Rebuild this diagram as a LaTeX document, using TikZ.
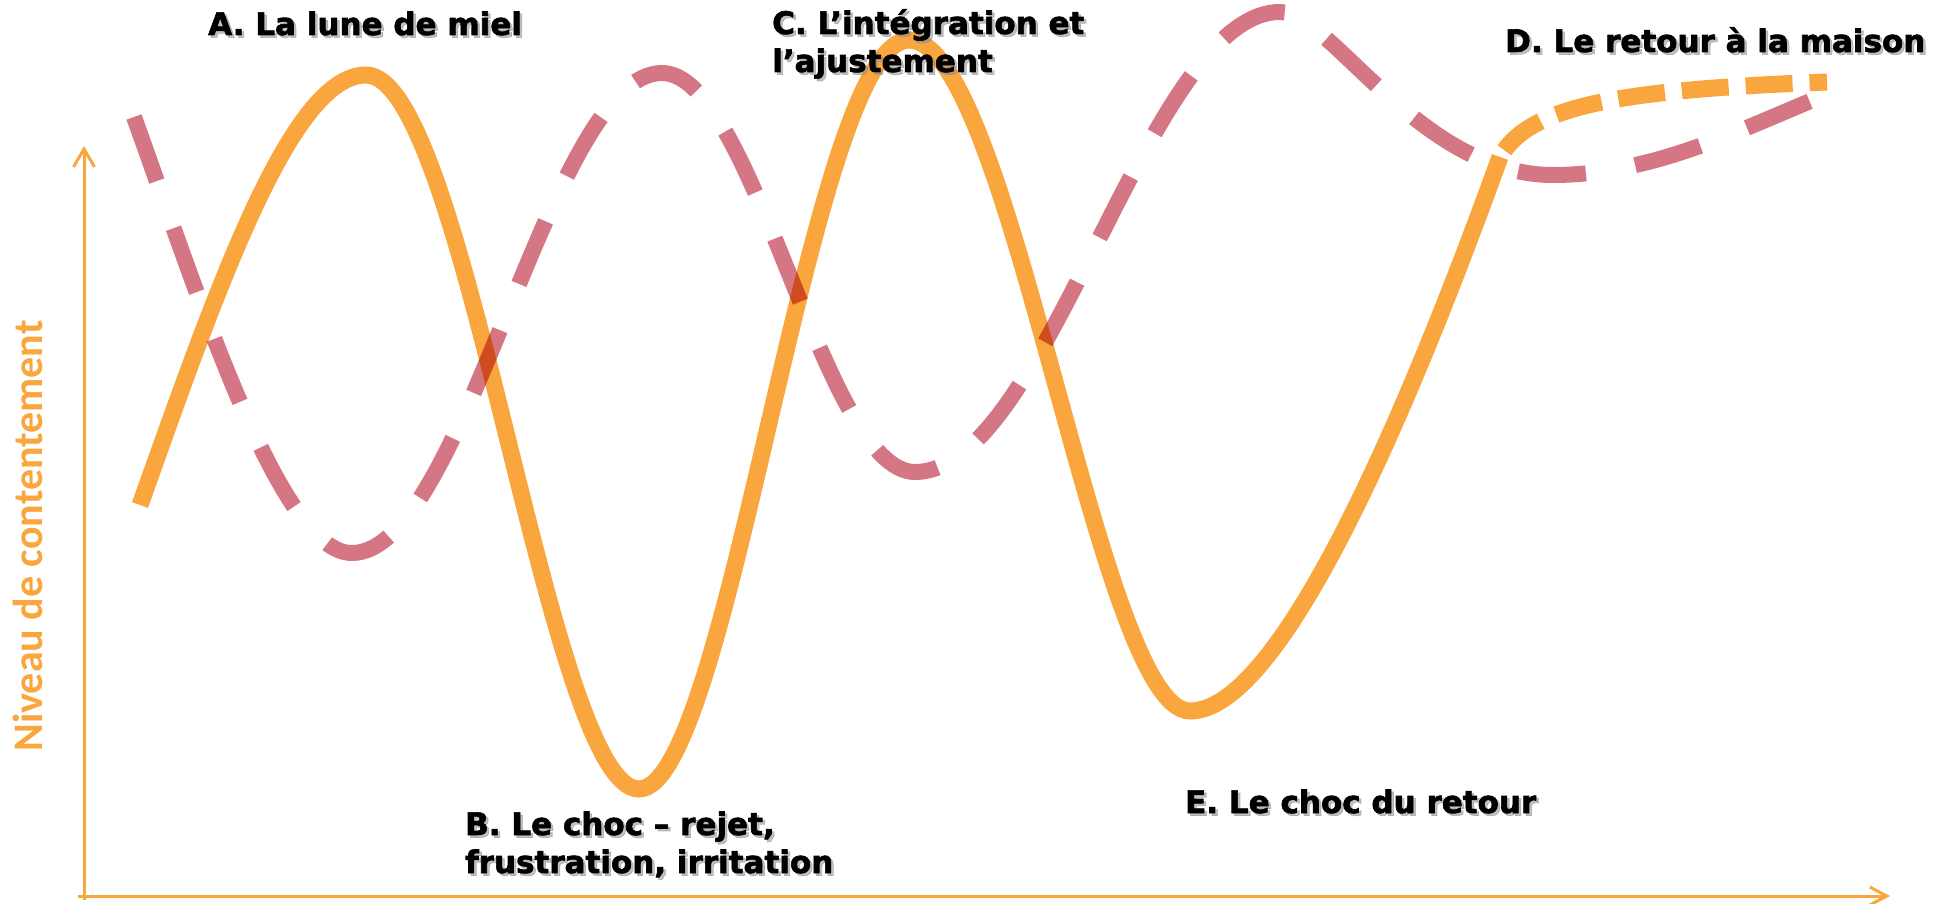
\documentclass[tikz,border=0pt]{standalone}
\usepackage{fontspec}
\setmainfont{DejaVu Sans}[BoldFeatures={FakeBold=2}]
\newfontfamily\ylabfont{Carlito}
\usetikzlibrary{arrows.meta}
\definecolor{orng}{RGB}{250,166,62}
\definecolor{pnk}{RGB}{212,118,131}
\begin{document}
\begin{tikzpicture}[x=1pt,y=-1pt,
  curveO/.style={draw=orng,line width=17pt},
  curveP/.style={draw=pnk,line width=16pt,dash pattern=on 68pt off 50pt},
  axisline/.style={draw=orng,line width=3pt},
  lab/.style={font=\fontsize{31}{38}\selectfont\bfseries,text=black,align=left,inner sep=0pt,anchor=base west},
  labshadow/.style={lab,text=black!45,opacity=0.55},
]
\useasboundingbox (0,0) rectangle (1939,904);
% axes
\coordinate (o1) at (84,900);
\coordinate (ytop) at (84,146);
\coordinate (o2) at (78,896);
\coordinate (xend) at (1890,896);
\draw[axisline,-{Straight Barb[length=18pt,width=21pt]}] (o1) -- (ytop);
\draw[axisline,-{Straight Barb[length=17pt,width=18pt]}] (o2) -- (xend);
\node[font=\ylabfont\bfseries\fontsize{42}{50}\selectfont,text=orng,rotate=90,anchor=base,inner sep=0pt] (ylab) at (42,536) {Niveau de contentement};
% orange curve
\draw[curveO] (140,505) .. controls (215,295) and (290,75) .. (366,75)
  .. controls (466,75) and (548,789) .. (639,789)
  .. controls (730,789) and (810,40) .. (909,40)
  .. controls (1011,40) and (1098,711) .. (1190,711)
  .. controls (1290,711) and (1430,350) .. (1500,157);
\draw[curveO,dash pattern=on 47pt off 17pt,dash phase=-8pt] (1500,157) .. controls (1530,105) and (1620,90) .. (1827,82);
% pink curve
\begin{scope}[blend mode=multiply]
\draw[curveP] (134,117) .. controls (200,300) and (280,553) .. (352,553)
  .. controls (465,553) and (549,73) .. (662,73)
  .. controls (754,73) and (823,472) .. (915,472)
  .. controls (1048,472) and (1147,12) .. (1280,12)
  .. controls (1330,12) and (1420,175) .. (1553,175)
  .. controls (1650,175) and (1740,130) .. (1813,100);
\end{scope}
% labels (anchor = baseline of the last line)
\node[labshadow] (As) at (210.5,37.5) {A. La lune de miel};
\node[lab] (A) at (208,35) {A. La lune de miel};
\node[labshadow] (Bs) at (467.5,875.5) {B. Le choc – rejet,\\frustration, irritation};
\node[lab] (B) at (465,873) {B. Le choc – rejet,\\frustration, irritation};
\node[labshadow] (Cs) at (774.5,74.5) {C. L’intégration et\\l’ajustement};
\node[lab] (C) at (772,72) {C. L’intégration et\\l’ajustement};
\node[labshadow] (Ds) at (1507.5,54.5) {D. Le retour à la maison};
\node[lab] (D) at (1505,52) {D. Le retour à la maison};
\node[labshadow] (Es) at (1187.5,815.5) {E. Le choc du retour};
\node[lab] (E) at (1185,813) {E. Le choc du retour};
\end{tikzpicture}
\end{document}
